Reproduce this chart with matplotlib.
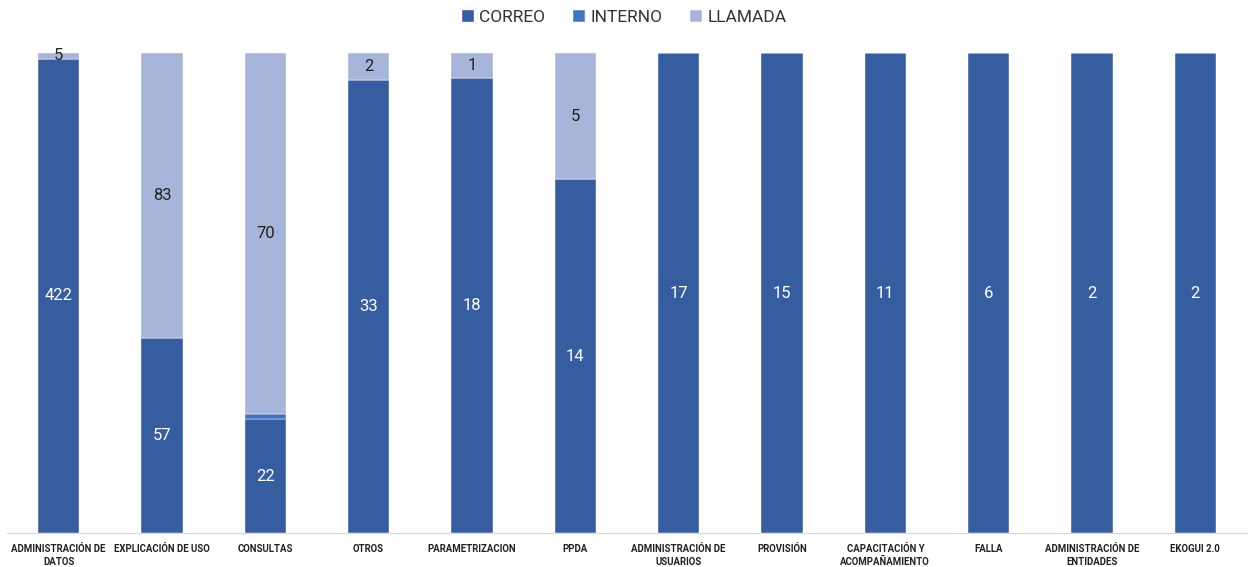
import matplotlib
matplotlib.use("Agg")
import matplotlib.pyplot as plt
import numpy as np

categories = ["ADMINISTRACIÓN DE\nDATOS", "EXPLICACIÓN DE USO", "CONSULTAS", "OTROS",
              "PARAMETRIZACION", "PPDA", "ADMINISTRACIÓN DE\nUSUARIOS", "PROVISIÓN",
              "CAPACITACIÓN Y\nACOMPAÑAMIENTO", "FALLA", "ADMINISTRACIÓN DE\nENTIDADES", "EKOGUI 2.0"]
correo = [422, 57, 22, 33, 18, 14, 17, 15, 11, 6, 2, 2]
interno = [0, 0, 1, 0, 0, 0, 0, 0, 0, 0, 0, 0]
llamada = [5, 83, 70, 2, 1, 5, 0, 0, 0, 0, 0, 0]

series = [("CORREO", correo, "#365DA0", "white"),
          ("INTERNO", interno, "#4573C4", "white"),
          ("LLAMADA", llamada, "#A8B5DA", "#222222")]

plt.rcParams['font.family'] = ['Roboto', 'DejaVu Sans']
fig = plt.figure(figsize=(12.48, 5.67), dpi=100)
ax = fig.add_axes([7/1248, 1 - 533/567, 1240/1248, 480/567])

totals = np.array(correo) + np.array(interno) + np.array(llamada)
x = np.arange(len(categories))
bottom = np.zeros(len(categories))
handles = []
for name, vals, color, tcolor in series:
    v = np.array(vals, dtype=float)
    pct = v / totals
    b = ax.bar(x, pct, 0.4, bottom=bottom, color=color, edgecolor="white", linewidth=0.3, label=name)
    handles.append(b)
    for i in range(len(x)):
        if vals[i] > 0 and (pct[i] > 0.02 or name == "LLAMADA"):
            ax.text(x[i], bottom[i] + pct[i] / 2, str(vals[i]), ha="center", va="center",
                    color=tcolor, fontsize=12)
    bottom += pct

ax.set_xlim(-0.5, len(categories) - 0.5)
ax.set_ylim(0, 1)
ax.set_yticks([])
ax.set_xticks(x)
ax.set_xticklabels(categories, fontsize=6.9, fontweight="bold", color="#222222", linespacing=1.3)
ax.tick_params(axis="x", length=0, pad=8)
for s in ["top", "right", "left"]:
    ax.spines[s].set_visible(False)
ax.spines["bottom"].set_color("#D9D9D9")
ax.spines["bottom"].set_linewidth(0.8)

fig.legend(handles=handles, labels=[s[0] for s in series], loc="upper center",
           bbox_to_anchor=(0.5, 1.01), ncol=3, frameon=False, fontsize=12.5,
           handlelength=0.7, handleheight=0.7, handletextpad=0.3, columnspacing=1.6,
           labelcolor="#333333")

fig.savefig("out.png", dpi=100)
